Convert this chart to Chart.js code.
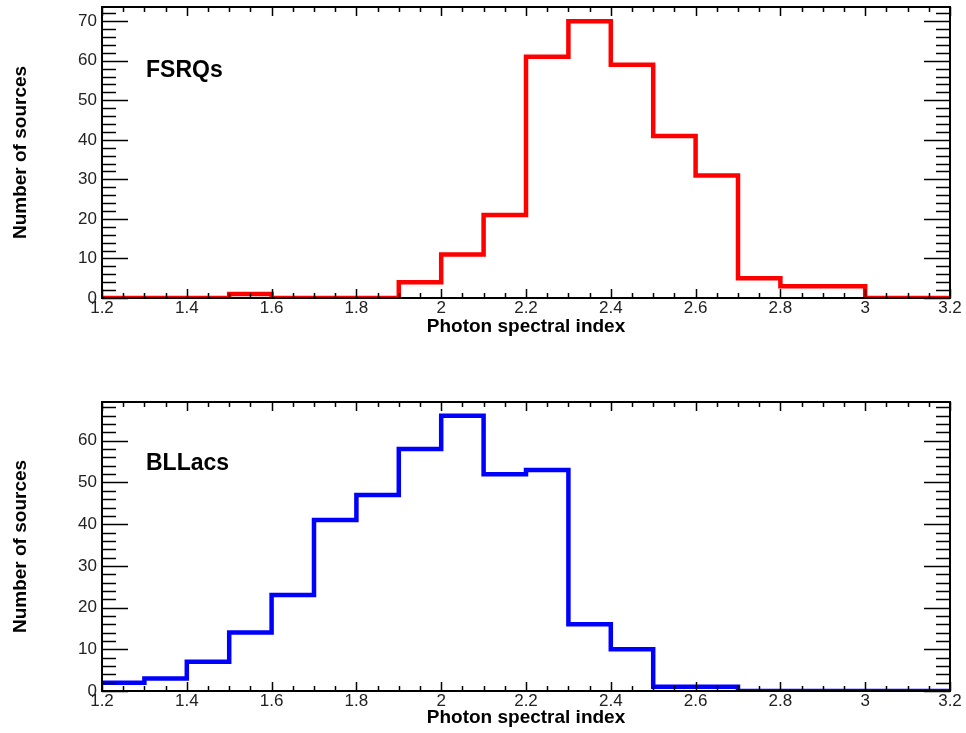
<!DOCTYPE html>
<html>
<head>
<meta charset="utf-8">
<script src="https://cdn.jsdelivr.net/npm/chart.js@4"></script>
<style>
  html, body { margin: 0; padding: 0; background: #fff; }
  body { width: 966px; height: 733px; position: relative; overflow: hidden; }
  .panel { position: absolute; left: 0; width: 966px; }
  #top { top: 0; height: 350px; }
  #bottom { top: 350px; height: 383px; }
</style>
</head>
<body>
<div class="panel" id="top"><canvas id="fsrqChart"></canvas></div>
<div class="panel" id="bottom"><canvas id="bllacChart"></canvas></div>
<script>
// bin edges of the photon index histograms (20 bins of 0.1)
const binEdges = [1.2, 1.3, 1.4, 1.5, 1.6, 1.7, 1.8, 1.9, 2.0, 2.1, 2.2,
                  2.3, 2.4, 2.5, 2.6, 2.7, 2.8, 2.9, 3.0, 3.1, 3.2];
const fsrqCounts = [0, 0, 0, 1, 0, 0, 0, 4, 11, 21, 61, 70, 59, 41, 31, 5, 3, 3, 0, 0];
const bllacCounts = [2, 3, 7, 14, 23, 41, 47, 58, 66, 52, 53, 16, 10, 1, 1, 0, 0, 0, 0, 0];

const FONT = "'Liberation Sans', Arial, Helvetica, sans-serif";

// step points: each bin's left edge, plus the last edge to close the last bin
function stepPoints(counts) {
  const pts = counts.map((c, i) => ({ x: binEdges[i], y: c }));
  pts.push({ x: binEdges[binEdges.length - 1], y: counts[counts.length - 1] });
  return pts;
}

// ROOT-like frame with inward ticks on all four sides + the panel label
const rootFrame = {
  id: "rootFrame",
  afterDatasetsDraw(chart, args, opts) {
    const { ctx, chartArea: a, scales: { x, y } } = chart;
    ctx.save();
    ctx.strokeStyle = "#000";
    ctx.lineWidth = 1.5;
    ctx.beginPath();
    // x ticks every 0.05, major every 0.2
    for (let k = 0; k <= 40; k++) {
      const v = x.min + k * 0.05;
      const px = Math.round(x.getPixelForValue(v)) + 0.5;
      const len = k % 4 === 0 ? 9 : 5;
      ctx.moveTo(px, a.bottom); ctx.lineTo(px, a.bottom - len);
      ctx.moveTo(px, a.top); ctx.lineTo(px, a.top + len);
    }
    // y ticks every 2, major every 10
    for (let v = 0; v <= y.max; v += 2) {
      const py = Math.round(y.getPixelForValue(v)) + 0.5;
      const len = v % 10 === 0 ? 26 : 14;
      ctx.moveTo(a.left, py); ctx.lineTo(a.left + len, py);
      ctx.moveTo(a.right, py); ctx.lineTo(a.right - len, py);
    }
    ctx.stroke();
    ctx.lineWidth = 2;
    ctx.strokeRect(a.left, a.top, a.right - a.left, a.bottom - a.top);
    // panel label
    ctx.fillStyle = "#000";
    ctx.font = "bold 23px " + FONT;
    ctx.textBaseline = "middle";
    ctx.fillText(opts.label, a.left + 44, a.top + opts.labelDy);
    ctx.restore();
  }
};

function makeChart(canvasId, counts, color, yMax, label, labelDy, pad, xHeight, xTitlePad) {
  return new Chart(document.getElementById(canvasId), {
    type: "line",
    data: {
      datasets: [{
        data: stepPoints(counts),
        stepped: "before",
        borderColor: color,
        borderWidth: 4.5,
        borderJoinStyle: "miter",
        borderCapStyle: "butt",
        pointRadius: 0,
        fill: false
      }]
    },
    options: {
      responsive: true,
      maintainAspectRatio: false,
      animation: false,
      layout: { padding: pad },
      plugins: {
        legend: { display: false },
        tooltip: { enabled: false },
        rootFrame: { label: label, labelDy: labelDy }
      },
      scales: {
        x: {
          type: "linear",
          min: 1.2,
          max: 3.2,
          grid: { display: false, drawTicks: false },
          border: { display: false },
          ticks: {
            stepSize: 0.2,
            autoSkip: false,
            maxRotation: 0,
            padding: 0,
            color: "#222",
            font: { family: FONT, size: 17 },
            callback: v => String(+v.toFixed(2))
          },
          title: {
            display: true,
            text: "Photon spectral index",
            color: "#000",
            font: { family: FONT, size: 19, weight: "bold" },
            padding: { top: 0, bottom: xTitlePad }
          },
          afterFit: s => { s.height = xHeight; s.paddingLeft = 0; s.paddingRight = 0; }
        },
        y: {
          min: 0,
          max: yMax,
          grid: { display: false, drawTicks: false },
          border: { display: false },
          ticks: {
            stepSize: 10,
            includeBounds: false,
            padding: 5,
            color: "#222",
            font: { family: FONT, size: 17 }
          },
          title: {
            display: true,
            text: "Number of sources",
            color: "#000",
            font: { family: FONT, size: 19, weight: "bold" },
            padding: { top: 9, bottom: 0 }
          },
          afterFit: s => { s.width = 102; s.paddingTop = 0; s.paddingBottom = 0; }
        }
      }
    },
    plugins: [rootFrame]
  });
}

makeChart("fsrqChart", fsrqCounts, "#ff0000", 73.6, "FSRQs", 64,
  { left: 0, right: 16, top: 7, bottom: 0 }, 52, 12);
makeChart("bllacChart", bllacCounts, "#0000ff", 69.3, "BLLacs", 62,
  { left: 0, right: 16, top: 52, bottom: 0 }, 42, 3.5);
</script>
</body>
</html>
